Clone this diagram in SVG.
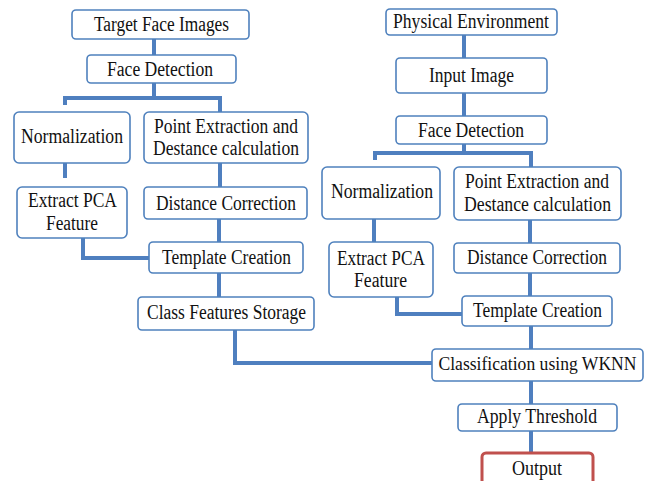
<svg xmlns="http://www.w3.org/2000/svg" width="646" height="481" viewBox="0 0 646 481">
<style>
.b{fill:#fff;stroke:#4f81bd;stroke-width:1.6}
.o{fill:#fff;stroke:#c0504d;stroke-width:3}
.c{fill:none;stroke:#4f7fbf;stroke-width:4}
text{font-family:'Liberation Serif','Times New Roman',serif;font-size:20px;fill:#111;text-anchor:middle}
</style>
<rect width="646" height="481" fill="#fff"/>
<g id="connectors">
<path class="c" d="M154 39V55"/>
<path class="c" d="M154 83V98M65 105V98H220V112"/>
<path class="c" d="M65 163V178"/>
<path class="c" d="M220 163V187"/>
<path class="c" d="M219 219V242"/>
<path class="c" d="M83 238V258H149"/>
<path class="c" d="M219 273V297"/>
<path class="c" d="M235 330V363H432"/>
<path class="c" d="M464 35V58"/>
<path class="c" d="M464 93V116"/>
<path class="c" d="M464 144V153M375 160V153H531V167"/>
<path class="c" d="M374 219V242"/>
<path class="c" d="M530 220V243"/>
<path class="c" d="M530 273V296"/>
<path class="c" d="M397 297V314H462"/>
<path class="c" d="M531 326V349"/>
<path class="c" d="M531 381V404"/>
<path class="c" d="M531 431V453"/>
</g>
<g id="target-face-images"><rect class="b" x="72" y="10" width="177" height="29" rx="4"/><text x="161.5" y="31" textLength="135" lengthAdjust="spacingAndGlyphs">Target Face Images</text></g>
<g id="face-detection-1"><rect class="b" x="87" y="55" width="149" height="28" rx="4"/><text x="160" y="76" textLength="106" lengthAdjust="spacingAndGlyphs">Face Detection</text></g>
<g id="normalization-1"><rect class="b" x="14" y="112" width="116" height="51" rx="5"/><text x="72" y="143" textLength="102" lengthAdjust="spacingAndGlyphs">Normalization</text></g>
<g id="point-extraction-1"><rect class="b" x="144" y="112" width="164" height="51" rx="5"/><text x="226" y="133" textLength="144" lengthAdjust="spacingAndGlyphs">Point Extraction and</text><text x="226" y="155" textLength="146" lengthAdjust="spacingAndGlyphs">Destance calculation</text></g>
<g id="extract-pca-1"><rect class="b" x="17" y="187" width="110" height="51" rx="5"/><text x="72.5" y="207" textLength="89" lengthAdjust="spacingAndGlyphs">Extract PCA</text><text x="72" y="230" textLength="52" lengthAdjust="spacingAndGlyphs">Feature</text></g>
<g id="distance-correction-1"><rect class="b" x="144" y="187" width="163" height="32" rx="4"/><text x="226" y="210" textLength="140" lengthAdjust="spacingAndGlyphs">Distance Correction</text></g>
<g id="template-creation-1"><rect class="b" x="149" y="242" width="154" height="31" rx="4"/><text x="226.5" y="264" textLength="129" lengthAdjust="spacingAndGlyphs">Template Creation</text></g>
<g id="class-features-storage"><rect class="b" x="138" y="297" width="176" height="33" rx="4"/><text x="226.5" y="319" textLength="159" lengthAdjust="spacingAndGlyphs">Class Features Storage</text></g>
<g id="physical-environment"><rect class="b" x="386" y="9" width="171" height="26" rx="4"/><text x="471" y="28" textLength="156" lengthAdjust="spacingAndGlyphs">Physical Environment</text></g>
<g id="input-image"><rect class="b" x="396" y="58" width="151" height="35" rx="4"/><text x="471.5" y="82" textLength="85" lengthAdjust="spacingAndGlyphs">Input Image</text></g>
<g id="face-detection-2"><rect class="b" x="396" y="116" width="151" height="28" rx="4"/><text x="471" y="137" textLength="106" lengthAdjust="spacingAndGlyphs">Face Detection</text></g>
<g id="normalization-2"><rect class="b" x="322" y="167" width="118" height="52" rx="5"/><text x="382" y="198" textLength="102" lengthAdjust="spacingAndGlyphs">Normalization</text></g>
<g id="point-extraction-2"><rect class="b" x="454" y="167" width="167" height="53" rx="5"/><text x="537" y="188" textLength="144" lengthAdjust="spacingAndGlyphs">Point Extraction and</text><text x="537.5" y="211" textLength="147" lengthAdjust="spacingAndGlyphs">Destance calculation</text></g>
<g id="extract-pca-2"><rect class="b" x="329" y="242" width="104" height="55" rx="5"/><text x="381" y="265" textLength="88" lengthAdjust="spacingAndGlyphs">Extract PCA</text><text x="380.5" y="287" textLength="53" lengthAdjust="spacingAndGlyphs">Feature</text></g>
<g id="distance-correction-2"><rect class="b" x="454" y="243" width="166" height="30" rx="4"/><text x="537" y="264" textLength="140" lengthAdjust="spacingAndGlyphs">Distance Correction</text></g>
<g id="template-creation-2"><rect class="b" x="462" y="296" width="150" height="30" rx="4"/><text x="537.5" y="317" textLength="129" lengthAdjust="spacingAndGlyphs">Template Creation</text></g>
<g id="classification-wknn"><rect class="b" x="432" y="349" width="211" height="32" rx="4"/><text x="537.5" y="370" style="font-size:18.5px" textLength="198" lengthAdjust="spacingAndGlyphs">Classification using WKNN</text></g>
<g id="apply-threshold"><rect class="b" x="458" y="404" width="159" height="27" rx="4"/><text x="537" y="423" textLength="120" lengthAdjust="spacingAndGlyphs">Apply Threshold</text></g>
<g id="output"><rect class="o" x="482" y="453" width="111" height="40" rx="4"/><text x="537" y="475" textLength="50" lengthAdjust="spacingAndGlyphs">Output</text></g>
</svg>
